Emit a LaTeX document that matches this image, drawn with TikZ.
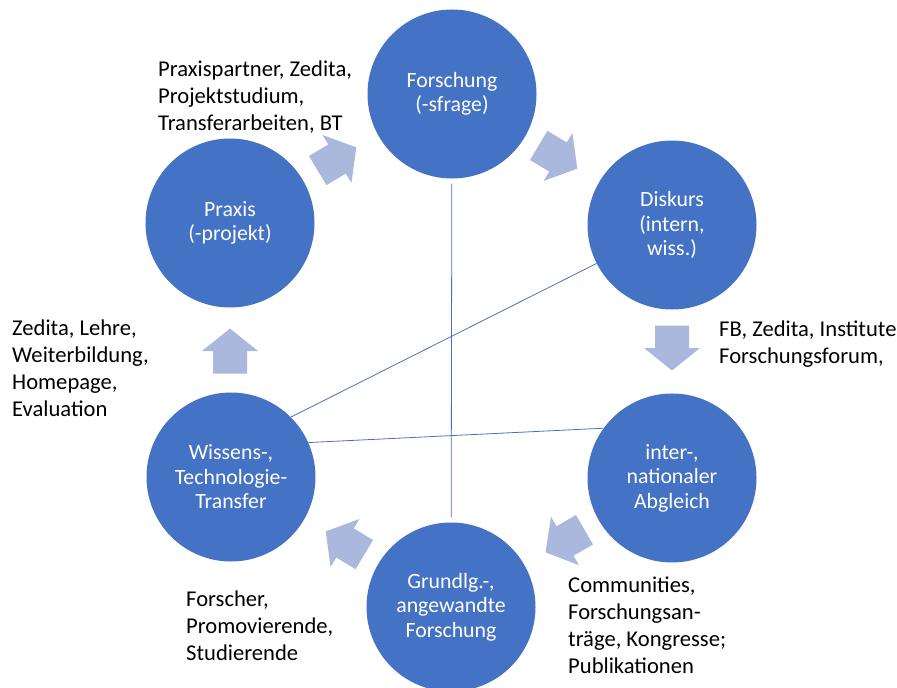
\documentclass[tikz,border=0pt]{standalone}
\usepackage{fontspec}
\setmainfont{Carlito}
\usepackage{tikz}
\definecolor{circblue}{RGB}{68,114,196}
\definecolor{arrowblue}{RGB}{169,184,220}

\begin{document}
\begin{tikzpicture}[x=1bp, y=-1bp,
  stage/.style={circle, fill=circblue, text=white, minimum size=169bp,
    inner sep=0pt, align=center, font=\fontsize{21.8bp}{24.5bp}\selectfont},
  note/.style={anchor=north west, inner sep=0pt, align=left,
    font=\fontsize{22.6bp}{27bp}\selectfont},
  link/.style={draw=circblue, line width=0.8bp},
  flow/.style={fill=arrowblue}]
\useasboundingbox (0,0) rectangle (897,688);
\clip (0,0) rectangle (897,688);

% the six stages
\node [stage] (fors) at (452, 94) {Forschung\\(-sfrage)};
\node [stage] (disk) at (672, 225) {Diskurs\\(intern,\\wiss.)};
\node [stage] (inter) at (672, 478) {inter-,\\nationaler\\Abgleich};
\node [stage] (grund) at (451, 607) {Grundlg.-,\\angewandte\\Forschung};
\node [stage] (wiss) at (231, 477) {Wissens-,\\Technologie-\\Transfer};
\node [stage] (prax) at (230, 223) {Praxis\\(-projekt)};

% cross links
\draw [link, shorten <=5bp, shorten >=5bp] (fors) -- (grund);
\draw [link] (wiss.45) -- (disk.207);
\draw [link] (wiss.24) -- (inter.144);

% block arrows of the cycle
\foreach \x/\y/\a in {337/159/31, 558/157/-31, 672/348/-90,
                      565/541/210, 345/543/149, 230/351/90}
  \fill [flow, shift={(\x,\y)}, rotate=\a]
    (-22.5,-17) -- (0,-17) -- (0,-28) -- (22.5,0)
    -- (0,28) -- (0,17) -- (-22.5,17) -- cycle;

% side notes
\node [note] (n1) at (158, 61) {Praxispartner, Zedita,\\Projektstudium,\\Transferarbeiten, BT};
\node [note] (n2) at (719, 321) {FB, Zedita, Institute\\Forschungsforum,};
\node [note] (n3) at (568, 577) {Communities,\\Forschungsan-\\träge, Kongresse;\\Publikationen};
\node [note] (n4) at (186, 591) {Forscher,\\Promovierende,\\Studierende};
\node [note] (n5) at (12, 320) {Zedita, Lehre,\\Weiterbildung,\\Homepage,\\Evaluation};
\end{tikzpicture}
\end{document}
